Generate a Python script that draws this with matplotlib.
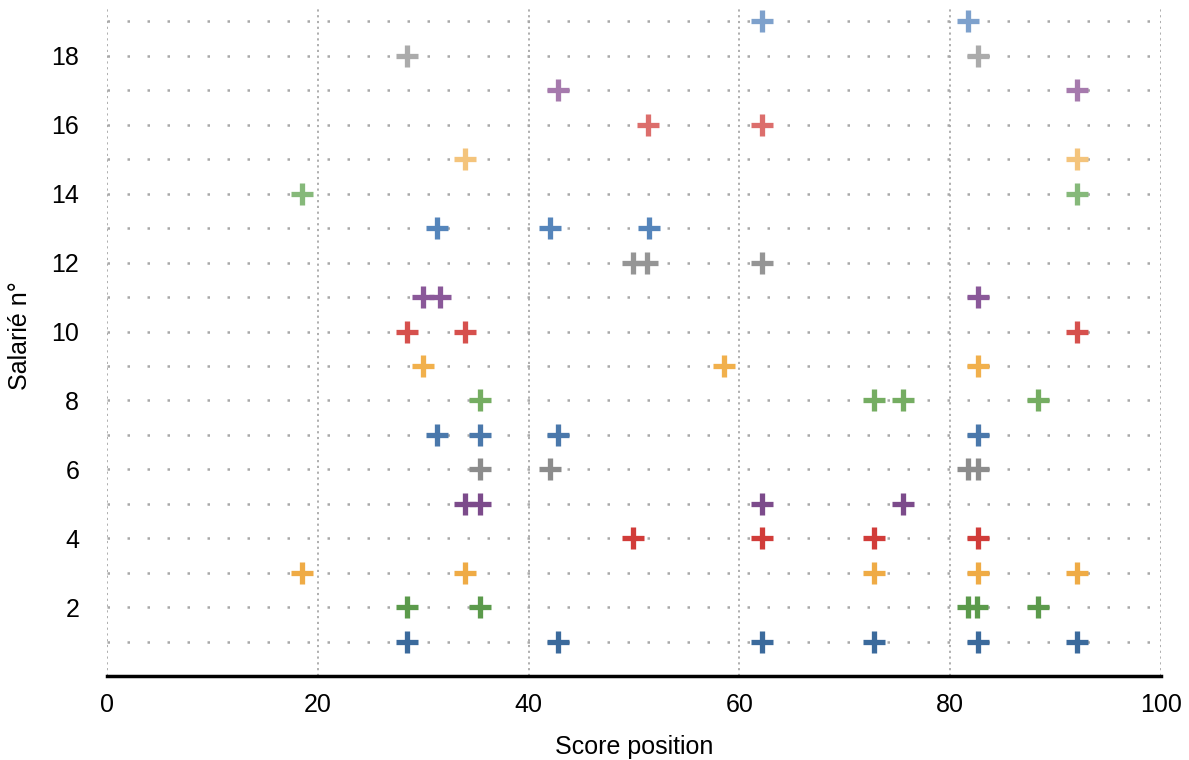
import numpy as np
import matplotlib.pyplot as plt

plt.rcParams['font.family'] = ['Liberation Sans', 'DejaVu Sans']

# score positions per employee (salarié 1..19)
salaries = list(range(1, 20))
scores = [
    [28.5, 42.8, 62.1, 72.8, 82.6, 92.0],   # 1
    [28.5, 35.4, 81.7, 82.5, 88.3],         # 2
    [18.5, 34.0, 72.8, 82.6, 92.0],         # 3
    [49.9, 62.1, 72.8, 82.6],               # 4
    [34.0, 35.4, 62.1, 75.5],               # 5
    [35.4, 42.0, 81.7, 82.6],               # 6
    [31.3, 35.4, 42.8, 82.6],               # 7
    [35.4, 72.8, 75.5, 88.3],               # 8
    [30.0, 58.5, 82.6],                     # 9
    [28.5, 34.0, 92.0],                     # 10
    [30.0, 31.6, 82.6],                     # 11
    [49.9, 51.2, 62.1],                     # 12
    [31.3, 42.0, 51.4],                     # 13
    [18.5, 92.0],                           # 14
    [34.0, 92.0],                           # 15
    [51.3, 62.1],                           # 16
    [42.8, 92.0],                           # 17
    [28.5, 82.6],                           # 18
    [62.1, 81.7],                           # 19
]

# colours: 6-colour cycle, each new round a bit lighter
colors = [
    '#3b6a9c', '#5b9a4b', '#efab45', '#d13c39', '#7c4b8b', '#8c8c8c',
    '#4a78ab', '#75ad62', '#f1b04c', '#d6504d', '#8a5899', '#959595',
    '#5585bb', '#86b97a', '#f4c47c', '#dc6e6c', '#a67aad', '#ababab',
    '#7ea1cc',
]

fig = plt.figure(figsize=(11.89, 7.6), dpi=100)
ax = fig.add_axes([0.09, 0.1105, 0.8865, 0.8785])

for s, xs, c in zip(salaries, scores, colors):
    ax.plot(xs, [s] * len(xs), linestyle='none', marker='+',
            markersize=16, markeredgewidth=3.8, color=c, zorder=3)

ax.set_xlim(0, 100)
ax.set_ylim(0, 19.38)
ax.set_xticks(np.arange(0, 101, 20))
ax.set_yticks(np.arange(2, 19, 2))
ax.set_yticks(np.arange(1, 20), minor=True)

ax.grid(axis='x', which='major', color='#a8a8a8', linestyle=(0, (1.2, 2)), linewidth=1.3)
ax.grid(axis='y', which='both', color='#a8a8a8', linestyle=(0, (1, 7)), linewidth=1.8)
ax.set_axisbelow(True)

for side in ['top', 'right', 'left']:
    ax.spines[side].set_visible(False)
ax.spines['bottom'].set_linewidth(2.5)
ax.spines['bottom'].set_color('black')

ax.tick_params(axis='both', which='both', length=0, labelsize=18)
ax.tick_params(axis='y', pad=20)
ax.tick_params(axis='x', pad=12)

ax.set_xlabel('Score position', fontsize=18, va='center')
ax.set_ylabel('Salarié n°', fontsize=18, va='center')
ax.xaxis.set_label_coords(0.5, -0.106)
ax.yaxis.set_label_coords(-0.0825, 0.51)

fig.savefig('out.png', dpi=100)
